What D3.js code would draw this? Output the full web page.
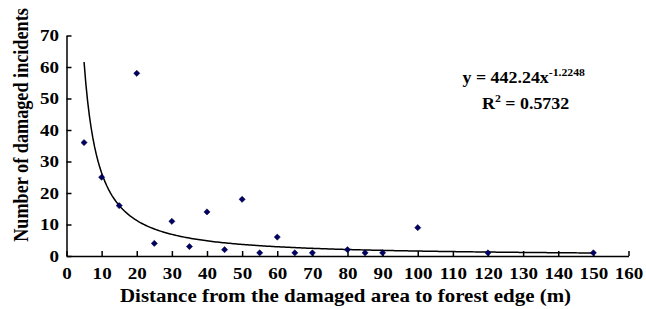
<!DOCTYPE html>
<html><head><meta charset="utf-8">
<script src="https://cdn.jsdelivr.net/npm/d3@7"></script>
<style>body{margin:0;background:#fff}svg{display:block}text{font-family:"Liberation Serif","Times New Roman",serif;font-weight:bold;fill:#000}</style>
</head><body>
<svg id="c" width="646" height="309"></svg>
<script>
const distances = [5,10,15,20,25,30,35,40,45,50,55,60,65,70,80,85,90,100,120,150];
const incidents = [36,25,16,58,4,11,3,14,2,18,1,6,1,1,2,1,1,9,1,1];
const xTicks = [0,10,20,30,40,50,60,70,80,90,100,110,120,130,140,150,160];
const yTicks = [0,10,20,30,40,50,60,70];
const fitA = 442.24, fitB = -1.2248;
const curveX = d3.range(5, 150.01, 0.5);

const SX = 1.12;
const svg = d3.select("#c");
const x = d3.scaleLinear().domain([0,160]).range([66.5,628.5]);
const y = d3.scaleLinear().domain([0,70]).range([256,35.5]);

const xAxis = d3.axisBottom(x).tickValues(xTicks).tickSizeInner(-5).tickSizeOuter(0).tickPadding(0);
const gx = svg.append("g").attr("transform","translate(0,256)").call(xAxis);
gx.select(".domain").attr("stroke","#000").attr("stroke-width",1.5);
gx.selectAll(".tick line").attr("stroke","#000").attr("stroke-width",1.5);
gx.selectAll("text").style("font-size","17px").attr("font-family",null)
  .attr("y",23).attr("dy",null).attr("transform",`scale(${SX},1)`);

const yAxis = d3.axisLeft(y).tickValues(yTicks).tickSizeInner(-5).tickSizeOuter(0).tickPadding(0);
const gy = svg.append("g").attr("transform","translate(66.5,0)").call(yAxis);
gy.select(".domain").attr("stroke","#000").attr("stroke-width",1.5);
gy.selectAll(".tick line").attr("stroke","#000").attr("stroke-width",1.5);
gy.selectAll("text").style("font-size","17px").attr("font-family",null)
  .attr("x",-7.5/SX).attr("dy","0.32em").attr("transform",`scale(${SX},1)`);

const line = d3.line().x(d=>x(d)).y(d=>y(fitA*Math.pow(d,fitB)));
svg.append("path").datum(curveX).attr("d",line).attr("fill","none").attr("stroke","#000").attr("stroke-width",1.5);

const sym = d3.symbol().type(d3.symbolSquare).size(19);
svg.selectAll(".pt").data(distances).enter().append("path")
  .attr("d",sym).attr("transform",(d,i)=>`translate(${x(d)},${y(incidents[i])}) rotate(45)`)
  .attr("fill","#000066").attr("stroke","#000033").attr("stroke-width",0.5);

svg.append("text").attr("transform",`translate(345.5,302) scale(${SX},1)`).attr("text-anchor","middle").style("font-size","18.7px")
  .text("Distance from the damaged area to forest edge (m)");
svg.append("text").attr("transform",`translate(28,125) scale(${SX},1) rotate(-90)`).attr("text-anchor","middle").style("font-size","18.2px")
  .text("Number of damaged incidents");

const eq = svg.append("text").attr("transform",`translate(462.5,83) scale(${SX},1)`).style("font-size","16px");
eq.append("tspan").text("y = 442.24x");
eq.append("tspan").attr("dy",-7).style("font-size","10.5px").text("-1.2248");
const r2 = svg.append("text").attr("transform",`translate(482,109) scale(${SX},1)`).style("font-size","16px");
r2.append("tspan").text("R");
r2.append("tspan").attr("dy",-7).style("font-size","10.5px").text("2");
r2.append("tspan").attr("dy",7).text(" = 0.5732");
</script>
</body></html>
